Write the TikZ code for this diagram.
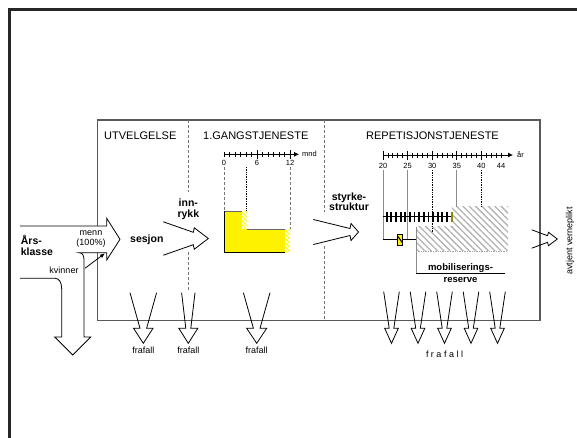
\documentclass[tikz,border=0pt]{standalone}
\usepackage{fontspec}
\setmainfont{Liberation Sans}
\usetikzlibrary{patterns.meta,arrows.meta}
\newcommand\hfun[7]{%
  \draw[arr] (#1,#2-#3) -- (#4,#2-#5) -- (#4+1,#2-#6) -- (#7,#2) -- (#4+1,#2+#6) -- (#4,#2+#5) -- (#1,#2+#3);}
\newcommand\vfun[7]{%
  \draw[arr] (#1-#3,#2) -- (#1-#5,#4) -- (#1-#6,#4) -- (#1,#7) -- (#1+#6,#4) -- (#1+#5,#4) -- (#1+#3,#2);}
\begin{document}
\begin{tikzpicture}[x=1pt,y=-1pt,
  arr/.style={draw=black,line width=0.8pt,line join=miter},
  boxline/.style={draw=black!65,line width=1.2pt},
  divider/.style={draw=black!55,line width=0.7pt,dash pattern=on 3pt off 2pt},
  ttl/.style={font=\fontsize{11}{13}\selectfont,inner sep=0pt},
  blbl/.style={font=\fontsize{10.5}{12}\selectfont\bfseries,inner sep=0pt},
  mlbl/.style={font=\fontsize{9.5}{11}\selectfont\bfseries,inner sep=0pt},
  slbl/.style={font=\fontsize{9}{10}\selectfont,inner sep=0pt},
  tlbl/.style={font=\fontsize{7.5}{9}\selectfont,inner sep=0pt},
  hatch/.style={pattern={Lines[angle=-45,distance=4.5pt,line width=1.3pt]},pattern color=black!30},
  ystripe/.style={pattern={Lines[angle=-45,distance=3pt,line width=1.2pt]},pattern color=yellow},
  tick/.style={line width=0.7pt},
]
\useasboundingbox (0,0) rectangle (577,437);
% outer frame
\draw[line width=2.3pt,black!85] (9.5,440) -- (9.5,9.5) -- (580,9.5);
% main box
\draw[boxline] (97.7,120) rectangle (540,320.7);
% dividers
\draw[divider] (188.3,120) -- (188.3,192);
\draw[divider] (188.3,252) -- (188.3,290);
\draw[divider] (324.5,120) -- (324.5,212);
\draw[divider] (324.5,246) -- (324.5,320.7);
% titles
\node[ttl,anchor=base west] (t1) at (104,139.5) {UTVELGELSE};
\node[ttl,anchor=base] (t2) at (255.8,139.3) {1.GANGSTJENESTE};
\node[ttl,anchor=base] (t3) at (432.5,139.5) {REPETISJONSTJENESTE};
% month axis
\draw[line width=0.8pt,-{Latex[length=5pt,width=5pt]}] (224,154.3) -- (299,154.3);
\foreach \m in {0,...,12} \draw[tick] (224+5.5*\m,151.8) -- (224+5.5*\m,156.8);
\foreach \m in {6,12} \draw[tick] (224+5.5*\m,150) -- (224+5.5*\m,158.6);
\node[tlbl] (m0) at (224,163) {0};
\node[tlbl] (m6) at (257,163) {6};
\node[tlbl] (m12) at (290,163) {12};
\node[tlbl,anchor=west] (mnd) at (302,154) {mnd};
% yellow L
\fill[yellow] (224,211) -- (242,211) -- (242,229) -- (285,229) -- (285,252) -- (224,252) -- cycle;
\fill[white] (242,211) rectangle (246.5,229);
\fill[ystripe] (242,211) rectangle (246.5,229);
\fill[white] (285,229) rectangle (290,252);
\fill[ystripe] (285,229) rectangle (290,252);
\draw[black!60,line width=1pt] (224,211) -- (242,211);
\draw[black!60,line width=1pt] (246.5,229) -- (285,229);
\draw[black,line width=1pt] (224,211) -- (224,252) -- (285,252);
\draw[divider] (224,167) -- (224,211);
\draw[black,line width=0.7pt,densely dotted] (246.5,167) -- (246.5,211);
\draw[divider] (290,167) -- (290,229);
% year axis
\draw[line width=0.8pt,-{Latex[length=5pt,width=5pt]}] (383,155) -- (513,155);
\foreach \n in {0,...,24} \draw[tick] (383+4.92*\n,152.5) -- (383+4.92*\n,157.5);
\foreach \n in {0,5,...,20} \draw[tick] (383+4.92*\n,150.5) -- (383+4.92*\n,159.5);
\node[tlbl] (y20) at (383,166) {20};
\node[tlbl] (y25) at (407.6,166) {25};
\node[tlbl] (y30) at (432.2,166) {30};
\node[tlbl] (y35) at (456.8,166) {35};
\node[tlbl] (y40) at (481.4,166) {40};
\node[tlbl] (y44) at (501.1,166) {44};
\node[tlbl,anchor=west] (aar) at (517,155) {år};
% hatched regions
\fill[hatch] (452,206.7) rectangle (508,226.7);
\fill[hatch] (416,226.7) rectangle (508,250.5);
\draw[black!45,line width=0.7pt] (416,226.7) -- (416,273.3);
\draw[black!35,line width=0.7pt,densely dotted] (416,251) -- (507,251);
\draw[black,line width=0.9pt] (416,273.3) -- (505,273.3);
% guides
\draw[black!45,line width=0.7pt] (383,170) -- (383,239.3);
\draw[black!45,line width=0.7pt] (407.6,170) -- (407.6,239.3);
\draw[black,line width=0.7pt,densely dotted] (432.2,170) -- (432.2,232);
\draw[black!45,line width=0.7pt] (456.8,170) -- (456.8,206.7);
\draw[black,line width=0.7pt,densely dotted] (481.4,170) -- (481.4,206.7);
% ladder
\draw[black,line width=0.9pt] (383,216.7) -- (452,216.7);
\foreach \k in {0,...,13} \draw[black,line width=1.8pt] (386.7+4.64*\k,211.7) -- (386.7+4.64*\k,221.7);
\draw[olive,line width=1.8pt] (451.7,211.7) -- (451.7,221.7);
% lower row
\draw[black,line width=0.9pt] (383,239.3) -- (397.5,239.3);
\draw[black,line width=0.9pt] (402.7,239.3) -- (416,239.3);
\draw[fill=yellow,line width=0.7pt] (397.5,234) rectangle (402.7,245);
\draw[black,line width=1.1pt] (398,236.5) -- (402.2,242.5);
\node[mlbl,anchor=base] (mob1) at (460.5,270) {mobiliserings-};
\node[mlbl,anchor=base] (mob2) at (460.5,282) {reserve};
% big split arrow
\draw[arr,fill=white] (20,226) -- (106.7,226) -- (106.7,218.3) -- (120,239.3) -- (106.7,260) -- (106.7,252.7) -- (79,252.7)
  .. controls (82.5,252.7) and (84,255.5) .. (84,260) -- (84,337) -- (90.7,337) -- (72.7,355) -- (54.7,337) -- (61.7,337)
  -- (61.7,289) .. controls (61.7,282) and (59,278.3) .. (55,278.3) -- (20,278.3);
\node[blbl,anchor=base west] (ars1) at (20.7,244) {Års-};
\node[blbl,anchor=base west] (ars2) at (20.7,255.5) {klasse};
\node[slbl] (menn) at (91,233) {menn};
\node[slbl] (pct) at (91,243.5) {(100\%)};
\node[slbl] (kv) at (64,270) {kvinner};
\coordinate (kvs) at (85,268.3);
\coordinate (kve) at (105,253.3);
\draw[line width=0.8pt,-{Latex[length=5pt,width=4pt]}] (kvs) -- (kve);
\node[blbl,anchor=base west] (ses) at (130,242.5) {sesjon};
% innrykk
\node[blbl,anchor=base] (inn1) at (188.3,206.5) {inn-};
\node[blbl,anchor=base] (inn2) at (188.3,217) {rykk};
\hfun{163.3}{238.5}{16.7}{193.3}{6.2}{10.7}{208.3}
% styrkestruktur
\node[blbl,anchor=base] (sty1) at (349,200) {styrke-};
\node[blbl,anchor=base] (sty2) at (349,210.5) {struktur};
\hfun{313.3}{232}{12.5}{350}{3.5}{8.5}{358.5}
% avtjent verneplikt
\hfun{531.7}{239}{9.2}{547.5}{3.3}{6.7}{557.3}
\node[slbl,rotate=90] (avt) at (570,241) {avtjent verneplikt};
% frafall
\vfun{143.3}{292.7}{13.3}{328.3}{3.3}{9.7}{343.3}
\vfun{188.3}{292.7}{6.7}{328.3}{2.5}{9.5}{343.3}
\vfun{256.7}{292.7}{13.3}{328.3}{3.3}{10}{343.3}
\foreach \x in {391.5,418,444.5,471,497.5} {\vfun{\x}{291.7}{7.8}{328.3}{2.3}{6.8}{343.3}}
\node[slbl] (f1) at (143.3,350.5) {frafall};
\node[slbl] (f2) at (188.3,350.5) {frafall};
\node[slbl] (f3) at (256.7,350.5) {frafall};
\node[slbl] (f4) at (444.5,354) {f r a f a l l};
\end{tikzpicture}
\end{document}
